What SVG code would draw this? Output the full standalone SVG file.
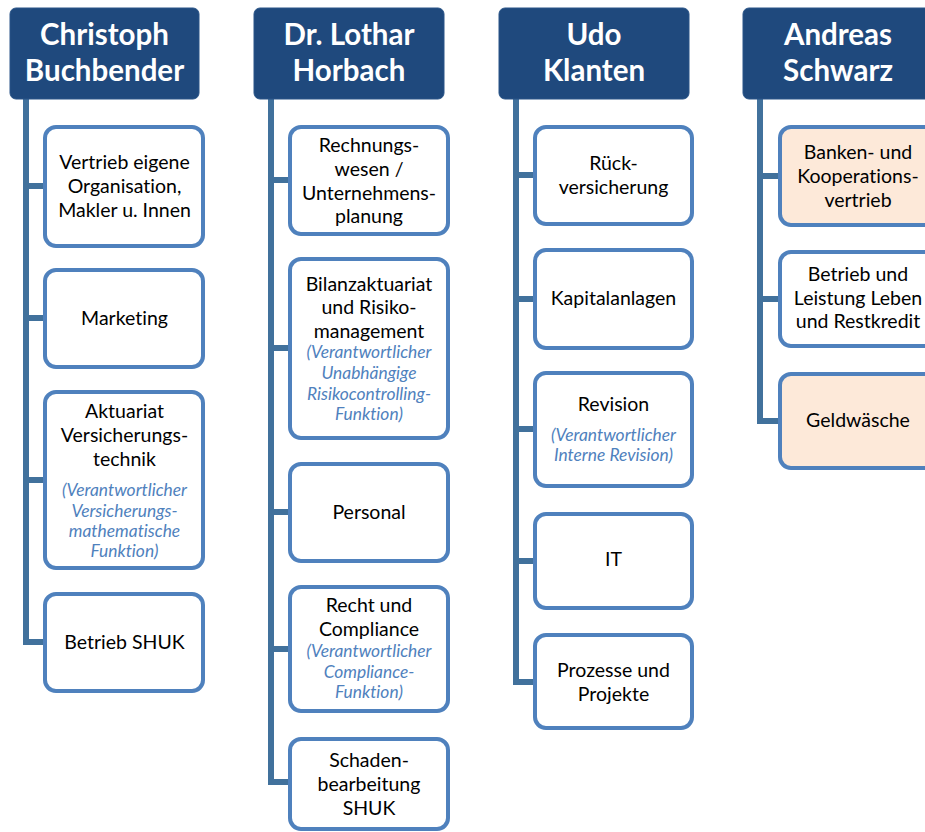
<svg xmlns="http://www.w3.org/2000/svg" width="925" height="832" viewBox="0 0 925 832">
<style>
.hdr{fill:#1f497d;stroke:#2a5588;stroke-width:1}
.box{fill:#ffffff;stroke:#4f81bd;stroke-width:4}
.box.peach{fill:#fde9d9}
.conn{fill:none;stroke:#41719c;stroke-width:6;stroke-linejoin:miter}
.ht{font-family:Lato,"Liberation Sans",sans-serif;font-weight:bold;font-size:29.5px;fill:#ffffff;text-anchor:middle}
.t{font-family:Lato,"Liberation Sans",sans-serif;font-size:19.5px;fill:#000000;text-anchor:middle;font-variant-ligatures:none}
.i{font-family:Lato,"Liberation Sans",sans-serif;font-size:17.4px;font-style:italic;fill:#4f81bd;text-anchor:middle;font-variant-ligatures:none}
</style>
<rect width="925" height="832" fill="#ffffff"/>
<g id="connectors">
<path class="conn" d="M26 99 V642 H45 M26 186 H45 M26 318 H45 M26 480 H45"/>
<path class="conn" d="M271 99 V782 H289 M271 180 H289 M271 348 H289 M271 512 H289 M271 649 H289"/>
<path class="conn" d="M516 99 V682 H534 M516 175 H534 M516 299 H534 M516 429 H534 M516 561 H534"/>
<path class="conn" d="M760 99 V421 H779 M760 176 H779 M760 299 H779"/>
</g>
<g id="h1"><rect class="hdr" x="10" y="8" width="189" height="91" rx="6"/><text class="ht" x="104.5" y="45">Christoph</text><text class="ht" x="104.5" y="81">Buchbender</text></g>
<g id="h2"><rect class="hdr" x="254" y="8" width="190" height="91" rx="6"/><text class="ht" x="349" y="45">Dr. Lothar</text><text class="ht" x="349" y="81">Horbach</text></g>
<g id="h3"><rect class="hdr" x="499" y="8" width="190" height="91" rx="6"/><text class="ht" x="594" y="45">Udo</text><text class="ht" x="594" y="81">Klanten</text></g>
<g id="h4"><rect class="hdr" x="743" y="8" width="190" height="91" rx="6"/><text class="ht" x="838" y="45">Andreas</text><text class="ht" x="838" y="81">Schwarz</text></g>

<g id="c1b1"><rect class="box" x="45" y="127" width="158" height="119" rx="11"/><text class="t" x="124.5" y="169">Vertrieb eigene</text><text class="t" x="124.5" y="193">Organisation,</text><text class="t" x="124.5" y="217">Makler u. Innen</text></g>
<g id="c1b2"><rect class="box" x="45" y="270" width="158" height="97" rx="11"/><text class="t" x="124.5" y="325">Marketing</text></g>
<g id="c1b3"><rect class="box" x="45" y="392" width="158" height="176" rx="11"/><text class="t" x="124.5" y="418">Aktuariat</text><text class="t" x="124.5" y="442">Versicherungs-</text><text class="t" x="124.5" y="466">technik</text><text class="i" x="124.5" y="496">(Verantwortlicher</text><text class="i" x="124.5" y="517">Versicherungs-</text><text class="i" x="124.5" y="537">mathematische</text><text class="i" x="124.5" y="557">Funktion)</text></g>
<g id="c1b4"><rect class="box" x="45" y="594" width="158" height="97" rx="11"/><text class="t" x="124.5" y="649">Betrieb SHUK</text></g>

<g id="c2b1"><rect class="box" x="290" y="127" width="158" height="107" rx="11"/><text class="t" x="369" y="152">Rechnungs-</text><text class="t" x="369" y="176">wesen /</text><text class="t" x="369" y="200">Unternehmens-</text><text class="t" x="369" y="223">planung</text></g>
<g id="c2b2"><rect class="box" x="290" y="259" width="158" height="179" rx="11"/><text class="t" x="369" y="291">Bilanzaktuariat</text><text class="t" x="369" y="314">und Risiko-</text><text class="t" x="369" y="338">management</text><text class="i" x="369" y="358">(Verantwortlicher</text><text class="i" x="369" y="379">Unabhängige</text><text class="i" x="369" y="400">Risikocontrolling-</text><text class="i" x="369" y="420">Funktion)</text></g>
<g id="c2b3"><rect class="box" x="290" y="464" width="158" height="97" rx="11"/><text class="t" x="369" y="519">Personal</text></g>
<g id="c2b4"><rect class="box" x="290" y="587" width="158" height="124" rx="11"/><text class="t" x="369" y="612">Recht und</text><text class="t" x="369" y="636">Compliance</text><text class="i" x="369" y="657">(Verantwortlicher</text><text class="i" x="369" y="678">Compliance-</text><text class="i" x="369" y="698">Funktion)</text></g>
<g id="c2b5"><rect class="box" x="290" y="739" width="158" height="90" rx="11"/><text class="t" x="369" y="767">Schaden-</text><text class="t" x="369" y="791">bearbeitung</text><text class="t" x="369" y="815">SHUK</text></g>

<g id="c3b1"><rect class="box" x="535" y="127" width="157" height="97" rx="11"/><text class="t" x="613.5" y="170">Rück-</text><text class="t" x="613.5" y="194">versicherung</text></g>
<g id="c3b2"><rect class="box" x="535" y="250" width="157" height="98" rx="11"/><text class="t" x="613.5" y="305">Kapitalanlagen</text></g>
<g id="c3b3"><rect class="box" x="535" y="373" width="157" height="113" rx="11"/><text class="t" x="613.5" y="411">Revision</text><text class="i" x="613.5" y="441">(Verantwortlicher</text><text class="i" x="613.5" y="461">Interne Revision)</text></g>
<g id="c3b4"><rect class="box" x="535" y="514" width="157" height="94" rx="11"/><text class="t" x="613.5" y="566">IT</text></g>
<g id="c3b5"><rect class="box" x="535" y="635" width="157" height="93" rx="11"/><text class="t" x="613.5" y="677">Prozesse und</text><text class="t" x="613.5" y="701">Projekte</text></g>

<g id="c4b1"><rect class="box peach" x="780" y="127" width="158" height="98" rx="11"/><text class="t" x="858" y="159">Banken- und</text><text class="t" x="858" y="183">Kooperations-</text><text class="t" x="858" y="207">vertrieb</text></g>
<g id="c4b2"><rect class="box" x="780" y="252" width="158" height="94" rx="11"/><text class="t" x="858" y="281">Betrieb und</text><text class="t" x="858" y="305">Leistung Leben</text><text class="t" x="858" y="328">und Restkredit</text></g>
<g id="c4b3"><rect class="box peach" x="780" y="374" width="158" height="94" rx="11"/><text class="t" x="858" y="427">Geldwäsche</text></g>
</svg>
